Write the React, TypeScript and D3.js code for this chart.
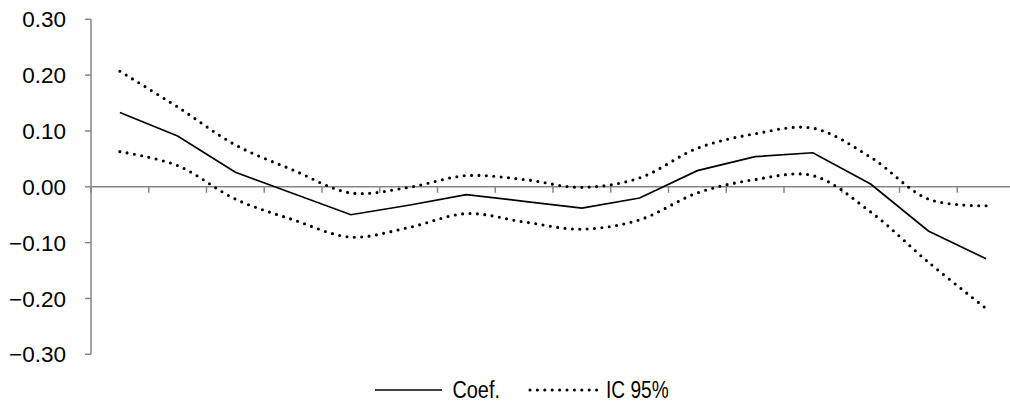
import React from "react";
import * as d3 from "d3";

const categories = ["1","2","3","4","5","6","7","8","9","10","11","12","13","14","15","16"];
const coef = [0.133, 0.091, 0.026, -0.012, -0.050, -0.033, -0.014, -0.026, -0.038, -0.020, 0.029, 0.054, 0.061, 0.005, -0.079, -0.129];
const icUpper = [0.207, 0.143, 0.075, 0.030, -0.011, -0.001, 0.020, 0.013, -0.001, 0.016, 0.069, 0.095, 0.105, 0.053, -0.022, -0.034];
const icLower = [0.063, 0.038, -0.022, -0.059, -0.090, -0.073, -0.048, -0.063, -0.076, -0.059, -0.011, 0.013, 0.020, -0.045, -0.135, -0.218];
const yTicks = [-0.3, -0.2, -0.1, 0, 0.1, 0.2, 0.3];
const legendLabels = ["Coef.", "IC 95%"];

const W = 1010, H = 404;
const left = 91, bandW = 57.75;

export default function App() {
  const x = d3.scaleBand<string>().domain(categories).range([left, left + bandW * categories.length]);
  const y = d3.scaleLinear().domain([-0.3, 0.3]).range([354.3, 19.3]);
  const cx = (c: string) => (x(c) as number) + x.bandwidth() / 2;

  const solid = d3.line<number>().x((_, i) => cx(categories[i])).y(d => y(d));
  const smooth = d3.line<number>().x((_, i) => cx(categories[i])).y(d => y(d)).curve(d3.curveCatmullRom.alpha(0.5));

  const axisColor = "#868686";
  const tickFont = "'Liberation Sans', Arial, sans-serif";
  const legFont = "'Liberation Sans', Arial, sans-serif";
  const y0 = y(0);
  const dotW = 3.1, dotGap = "0 7.4";

  return (
    <svg width={W} height={H} style={{ position: "absolute", left: 0, top: 0, background: "#fff" }}>
      {/* y axis */}
      <line x1={left} x2={left} y1={y(0.3)} y2={y(-0.3)} stroke={axisColor} strokeWidth={1.5} />
      {yTicks.map(t => (
        <g key={t}>
          <line x1={left - 6} x2={left} y1={y(t)} y2={y(t)} stroke={axisColor} strokeWidth={1.5} />
          <text x={66} y={y(t)} dy="0.36em" textAnchor="end" fontFamily={tickFont} fontSize={22.5} fill="#000">
            {d3.format(".2f")(t)}
          </text>
        </g>
      ))}
      {/* x axis */}
      <line x1={left} x2={left + bandW * categories.length} y1={y0} y2={y0} stroke={axisColor} strokeWidth={1.5} />
      {categories.map(c => (
        <line key={c} x1={x(c) as number} x2={x(c) as number} y1={y0} y2={y0 + 6} stroke={axisColor} strokeWidth={1.5} />
      ))}
      {/* series */}
      <path d={smooth(icUpper) || ""} fill="none" stroke="#000" strokeWidth={dotW} strokeDasharray={dotGap} strokeLinecap="round" />
      <path d={smooth(icLower) || ""} fill="none" stroke="#000" strokeWidth={dotW} strokeDasharray={dotGap} strokeLinecap="round" />
      <path d={solid(coef) || ""} fill="none" stroke="#000" strokeWidth={1.7} />
      {/* legend */}
      <line x1={375} x2={442} y1={390} y2={390} stroke="#000" strokeWidth={1.7} />
      <text transform="translate(452.5,397.7) scale(0.81,1)" fontFamily={legFont} fontSize={24.5} fill="#000">{legendLabels[0]}</text>
      <line x1={530} x2={597} y1={390} y2={390} stroke="#000" strokeWidth={dotW} strokeDasharray={dotGap} strokeLinecap="round" />
      <text transform="translate(606,397.7) scale(0.78,1)" fontFamily={legFont} fontSize={24.5} fill="#000">{legendLabels[1]}</text>
    </svg>
  );
}
